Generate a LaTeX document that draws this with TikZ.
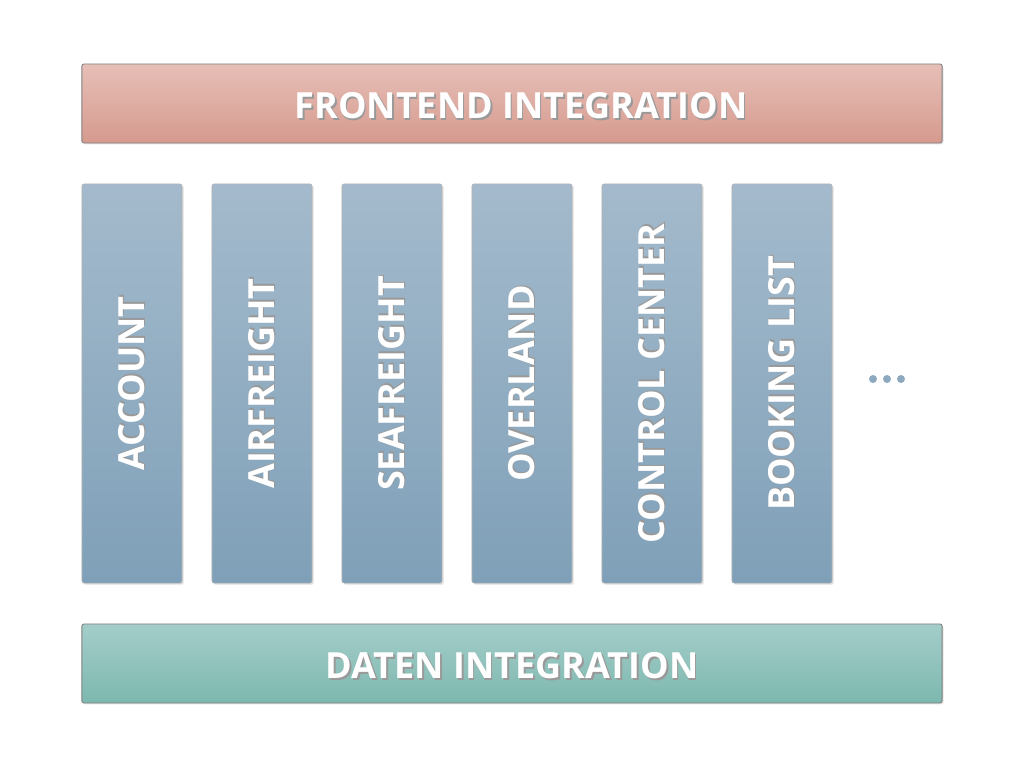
\documentclass[tikz,border=0pt]{standalone}
\usepackage{fontspec}
\setmainfont{Open Sans}
\usetikzlibrary{shadows}
\definecolor{frontTop}{HTML}{E6BFB7}
\definecolor{frontBot}{HTML}{D69A8E}
\definecolor{modTop}{HTML}{A4BACC}
\definecolor{modBot}{HTML}{7FA0B8}
\definecolor{dataTop}{HTML}{A4CDC9}
\definecolor{dataBot}{HTML}{7DB8AE}
\definecolor{dotcol}{HTML}{8DA9C0}
% white caps with a soft dark shadow
\newcommand{\shtext}[1]{\makebox[0pt][l]{\hspace{1.2pt}\raisebox{-1.2pt}{\textcolor{black!40}{#1}}}\textcolor{white}{#1}}
\begin{document}
\begin{tikzpicture}[x=0.025cm,y=0.025cm,
  every node/.style={font=\fontsize{25.6}{30}\selectfont\bfseries},
  bar/.style={draw=black!50,line width=0.6pt,rounded corners=1.5pt,minimum width=21.5cm,minimum height=1.975cm,inner sep=0pt,
    text height=0.77cm,text depth=0pt,
    drop shadow={opacity=0.2,shadow xshift=1pt,shadow yshift=-1pt}},
  module/.style={draw=black!30,line width=0.4pt,rounded corners=1.5pt,top color=modTop,bottom color=modBot,
    minimum width=2.5cm,minimum height=9.975cm,inner sep=0pt,
    drop shadow={opacity=0.25,shadow xshift=1.2pt,shadow yshift=-1.2pt}}]
\useasboundingbox (0,0) rectangle (1024,768);
\node[bar,top color=frontTop,bottom color=frontBot] (frontend) at (512,664.5) {\hspace*{0.45cm}\shtext{FRONTEND INTEGRATION}};
\node[module] (account) at (132,384.5) {\rotatebox{90}{\shtext{ACCOUNT}}};
\node[module] (airfreight) at (262,384.5) {\rotatebox{90}{\shtext{AIRFREIGHT}}};
\node[module] (seafreight) at (392,384.5) {\rotatebox{90}{\shtext{SEAFREIGHT}}};
\node[module] (overland) at (522,384.5) {\rotatebox{90}{\shtext{OVERLAND}}};
\node[module] (control) at (652,384.5) {\rotatebox{90}{\shtext{CONTROL CENTER}}};
\node[module] (booking) at (782,384.5) {\rotatebox{90}{\shtext{BOOKING LIST}}};
\foreach \x in {873,887,901} \fill[dotcol] (\x,389) circle (4);
\node[bar,top color=dataTop,bottom color=dataBot] (daten) at (512,104.5) {\shtext{DATEN INTEGRATION}};
\end{tikzpicture}
\end{document}
